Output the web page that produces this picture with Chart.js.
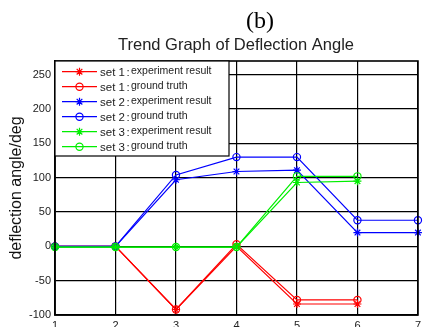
<!DOCTYPE html>
<html>
<head>
<meta charset="utf-8">
<script src="https://cdn.jsdelivr.net/npm/chart.js@4/dist/chart.umd.min.js"></script>
<style>
  html, body { margin: 0; padding: 0; background: #fff; overflow: hidden; }
  canvas { display: block; }
</style>
</head>
<body>
<canvas id="angleChart" width="425" height="327"></canvas>
<script>
// step index on the x axis
const steps = ['1', '2', '3', '4', '5', '6', '7'];
// deflection angle (deg) per step
const set1Exp = [0, 0, -92, 0, -84, -84, null];
const set1Gt = [0, 0, -92, 3, -78, -78, null];
const set2Exp = [0, 0, 97, 109, 111, 20, 20];
const set2Gt = [0, 0, 104, 130, 130, 38, 38];
const set3Exp = [-1, -1, -1, -1, 93, 95, null];
const set3Gt = [-1, -1, -1, -1, 102, 102, null];
const yTicks = [-100, -50, 0, 50, 100, 150, 200, 250];
const setNames = ['set 1', 'set 1', 'set 2', 'set 2', 'set 3', 'set 3'];
const setNotes = ['experiment result', 'ground truth', 'experiment result', 'ground truth', 'experiment result', 'ground truth'];

const colors = ['#ff0000', '#ff0000', '#0000ff', '#0000ff', '#00ee00', '#00ee00'];
const series = [set1Exp, set1Gt, set2Exp, set2Gt, set3Exp, set3Gt];

const datasets = series.map((vals, i) => ({
  label: setNames[i] + ': ' + setNotes[i],
  data: vals,
  borderColor: colors[i],
  backgroundColor: 'transparent',
  borderWidth: 1.2,
  pointStyle: i % 2 === 0 ? 'star' : 'circle',
  pointRadius: i % 2 === 0 ? 4 : 3.6,
  pointBorderWidth: 1.2,
  pointBorderColor: colors[i],
  pointBackgroundColor: 'transparent',
  tension: 0,
  order: 5 - i, // later sets on top, like matlab
}));

// titles, box around the axes and the legend inside the plot
const decorations = {
  id: 'decorations',
  afterDraw(chart) {
    const ctx = chart.ctx;
    const a = chart.chartArea;
    ctx.save();

    ctx.fillStyle = '#000';
    ctx.textAlign = 'center';
    ctx.textBaseline = 'middle';
    ctx.font = '24px "Liberation Serif", serif';
    ctx.fillText('(b)', 260, 22);
    ctx.fillStyle = '#222';
    ctx.font = '16.5px "Liberation Sans", Arial, sans-serif';
    ctx.fillText('Trend Graph of Deflection Angle', 236, 45);

    ctx.strokeStyle = '#000';
    ctx.lineWidth = 1.6;
    ctx.strokeRect(a.left, a.top, a.right - a.left, a.bottom - a.top);

    // legend
    const lx = a.left, ly = a.top, lw = 174, lh = 95;
    ctx.fillStyle = '#fff';
    ctx.fillRect(lx, ly, lw, lh);
    ctx.lineWidth = 1.2;
    ctx.strokeRect(lx, ly, lw, lh);

    for (let i = 0; i < 6; i++) {
      const y = ly + 10.7 + 15 * i;
      ctx.strokeStyle = colors[i];
      ctx.lineWidth = 1.2;
      ctx.beginPath();
      ctx.moveTo(lx + 7, y);
      ctx.lineTo(lx + 42, y);
      ctx.stroke();
      ctx.fillStyle = 'rgba(0,0,0,0)';
      Chart.helpers.drawPoint(ctx, {
        pointStyle: i % 2 === 0 ? 'star' : 'circle',
        radius: i % 2 === 0 ? 4 : 3.6,
        borderWidth: 1.2,
      }, lx + 24.5, y);

      ctx.fillStyle = '#222';
      ctx.textAlign = 'left';
      ctx.textBaseline = 'middle';
      ctx.font = '11.5px "Liberation Sans", Arial, sans-serif';
      ctx.fillText(setNames[i], lx + 45, y + 1);
      const w = ctx.measureText(setNames[i]).width;
      ctx.fillText(':', lx + 45 + w + 1.5, y + 1);
      ctx.font = '10.5px "Liberation Sans", Arial, sans-serif';
      ctx.fillText(setNotes[i], lx + 76, y - 0.5);
    }
    ctx.restore();
  },
};

new Chart(document.getElementById('angleChart'), {
  type: 'line',
  data: { labels: steps, datasets: datasets },
  options: {
    responsive: false,
    animation: false,
    layout: { padding: { top: 61, right: 3.5, left: 0, bottom: 0 } },
    plugins: {
      legend: { display: false },
      tooltip: { enabled: false },
    },
    scales: {
      x: {
        offset: false,
        grid: { color: '#000', lineWidth: 1.2, drawTicks: false },
        border: { color: '#000', width: 1.6 },
        ticks: {
          padding: 4,
          color: '#222',
          maxRotation: 0,
          font: { family: '"Liberation Sans", Arial, sans-serif', size: 11 },
        },
        afterFit(scale) { scale.height = 12; },
      },
      y: {
        min: -100,
        max: 270,
        afterBuildTicks(scale) { scale.ticks = yTicks.map((v) => ({ value: v })); },
        grid: { color: '#000', lineWidth: 1.2, drawTicks: false },
        border: { color: '#000', width: 1.6 },
        ticks: {
          padding: 4,
          color: '#222',
          font: { family: '"Liberation Sans", Arial, sans-serif', size: 11 },
        },
        title: {
          display: true,
          text: 'deflection angle/deg',
          color: '#111',
          padding: { top: 7, bottom: 0 },
          font: { family: '"Liberation Sans", Arial, sans-serif', size: 16 },
        },
        afterFit(scale) { scale.width = 55; },
      },
    },
  },
  plugins: [decorations],
});
</script>
</body>
</html>
